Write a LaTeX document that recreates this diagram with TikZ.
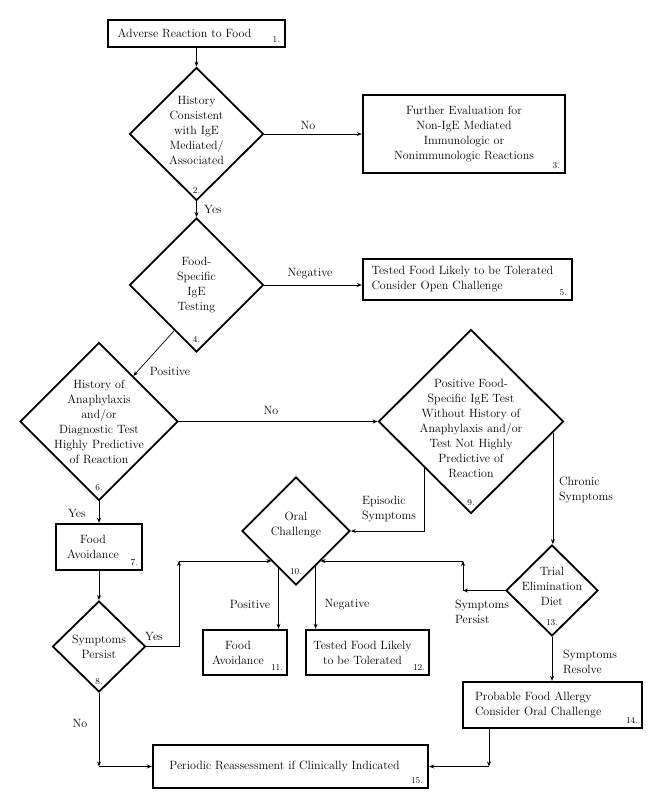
\documentclass[tikz,border=0pt]{standalone}
\usetikzlibrary{shapes.geometric,arrows.meta}

\tikzset{
  box/.style={draw, line width=2.4pt, inner sep=0pt, align=center},
  decision/.style={draw, diamond, line width=1.8pt, inner sep=0pt},
  dtext/.style={align=center, anchor=center, inner sep=0pt},
  num/.style={font=\fontsize{9}{10}\selectfont, inner sep=1pt},
  elabel/.style={align=left, inner sep=0pt},
}

\begin{document}
\begin{tikzpicture}[x=1pt, y=-1pt, line width=0.7pt, >={Stealth[length=5pt,width=4pt]}, font=\fontsize{12}{15}\selectfont]
        \useasboundingbox (0,0) rectangle (653,810);

        % boxes
        \node[box, minimum width=177, minimum height=27, label={[num,anchor=south east,xshift=-5pt,yshift=4pt]south east:1.}] (b1) at (196.5,33.5) {Adverse Reaction to Food\hspace*{24pt}};
        \node[box, minimum width=202, minimum height=78, label={[num,anchor=south east,xshift=-5pt,yshift=4pt]south east:3.}] (b3) at (464,134) {Further Evaluation for\\Non-IgE Mediated\\Immunologic or\\Nonimmunologic Reactions};
        \node[box, minimum height=41, text width=192, inner xsep=8.5pt, align=left, label={[num,anchor=south east,xshift=-5pt,yshift=4pt]south east:5.}] (b5) at (467.5,279.5) {Tested Food Likely to be Tolerated\\Consider Open Challenge};
        \node[box, minimum width=86, minimum height=46, label={[num,anchor=south east,xshift=-4pt,yshift=4pt]south east:7.}] (b7) at (99,547) {Food\hspace*{12pt}\\Avoidance\hspace*{12pt}};
        \node[box, minimum width=84, minimum height=45, label={[num,anchor=south east,xshift=-4pt,yshift=4pt]south east:11.}] (b11) at (245,652.5) {Food\hspace*{14pt}\\Avoidance\hspace*{14pt}};
        \node[box, minimum width=123, minimum height=45, label={[num,anchor=south east,xshift=-4pt,yshift=4pt]south east:12.}] (b12) at (367.5,652.5) {Tested Food Likely\hspace*{10pt}\\to be Tolerated\hspace*{10pt}};
        \node[box, minimum height=46, text width=155, inner xsep=12pt, align=left, label={[num,anchor=south east,xshift=-4pt,yshift=4pt]south east:14.}] (b14) at (552.5,705) {Probable Food Allergy\\Consider Oral Challenge};
        \node[box, minimum width=275, minimum height=43, label={[num,anchor=south east,xshift=-5pt,yshift=4pt]south east:15.}] (b15) at (290.5,766.5) {Periodic Reassessment if Clinically Indicated\hspace*{12pt}};

        % decisions
        \node[decision, minimum width=134, minimum height=133, label={[dtext,yshift=4pt]center:History\\Consistent\\with IgE\\Mediated/\\Associated}, label={[num,anchor=south,yshift=7pt]south:2.}] (d2) at (196.5,134) {};
        \node[decision, minimum width=134, minimum height=134, label={[dtext]center:Food-\\Specific\\IgE\\Testing}, label={[num,anchor=south,yshift=9pt]south:4.}] (d4) at (196.5,285) {};
        \node[decision, minimum width=158, minimum height=158, label={[dtext]center:History of\\Anaphylaxis\\and/or\\Diagnostic Test\\Highly Predictive\\of Reaction}, label={[num,anchor=south,yshift=9pt]south:6.}] (d6) at (99,421.5) {};
        \node[decision, minimum width=185, minimum height=184, label={[dtext,yshift=-7pt]center:Positive Food-\\Specific IgE Test\\Without History of\\Anaphylaxis and/or\\Test Not Highly\\Predictive of\\Reaction}, label={[num,anchor=south,yshift=7pt]south:9.}] (d9) at (471,421.5) {};
        \node[decision, minimum width=108, minimum height=108, label={[dtext,yshift=6pt]center:Oral\\Challenge}, label={[num,anchor=south,yshift=10pt]south:10.}] (d10) at (296,531) {};
        \node[decision, minimum width=93, minimum height=91, label={[dtext]center:Symptoms\\Persist}, label={[num,anchor=south,yshift=7pt]south:8.}] (d8) at (99,646.5) {};
        \node[decision, minimum width=92, minimum height=91, label={[dtext,yshift=4pt]center:Trial\\Elimination\\Diet}, label={[num,anchor=south,yshift=10pt]south:13.}] (d13) at (552,590.5) {};

        % corners
        \coordinate (c8) at (179,561);
        \coordinate (c13) at (463,561);
        \coordinate (c14) at (489,766.5);

        % connectors
        \draw[->] (b1.south) -- (d2.north);
        \draw[->] (d2.east) -- (b3.west);
        \draw[->] (d2.south) -- (d4.north);
        \draw[->] (d4.east) -- (d4.east -| b5.west);
        \draw[->] (d4.244) -- (d6.53);
        \draw[->] (d6.east) -- (d9.west);
        \draw[->] (d6.south) -- (b7.north);
        \draw[->] (b7.south) -- (d8.north);
        \draw[->] (d8.east) -| (c8);
        \draw[->] (c8) -- (c8 -| d10.231);
        \draw[->] (d9.south west) |- (d10.east);
        \draw[->] (d9.-8) -- (d9.-8 |- d13.north);
        \draw[->] (d10.245) -- (d10.245 |- b11.north);
        \draw[->] (d10.-61) -- (d10.-61 |- b12.north);
        \draw[->] (d13.west) -- (d13.west -| c13);
        \draw[->] (d13.west -| c13) -- (c13);
        \draw[->] (c13) -- (c13 -| d10.-51);
        \draw[->] (d13.south) -- (d13.south |- b14.north);
        \draw[->] (d8.south) -- (d8.south |- b15.west);
        \draw[->] (d8.south |- b15.west) -- (b15.west);
        \draw[->] (b14.south -| c14) -- (c14);
        \draw[->] (c14) -- (b15.east);

        % connector labels
        \node[elabel] (l2no) at (308,125) {No};
        \node[elabel] (l2yes) at (213,209) {Yes};
        \node[elabel] (l4neg) at (310,274) {Negative};
        \node[elabel] (l4pos) at (170,371) {Positive};
        \node[elabel] (l6no) at (271,410) {No};
        \node[elabel] (l6yes) at (77,513) {Yes};
        \node[elabel] (l9epi) at (389,509) {Episodic\\Symptoms};
        \node[elabel] (l9chr) at (586,490) {Chronic\\Symptoms};
        \node[elabel] (l8yes) at (154,636) {Yes};
        \node[elabel] (l8no) at (80,723) {No};
        \node[elabel] (l10pos) at (250,604) {Positive};
        \node[elabel] (l10neg) at (347,605) {Negative};
        \node[elabel] (l13per) at (482,612) {Symptoms\\Persist};
        \node[elabel] (l13res) at (590,662) {Symptoms\\Resolve};
    \end{tikzpicture}
\end{document}
